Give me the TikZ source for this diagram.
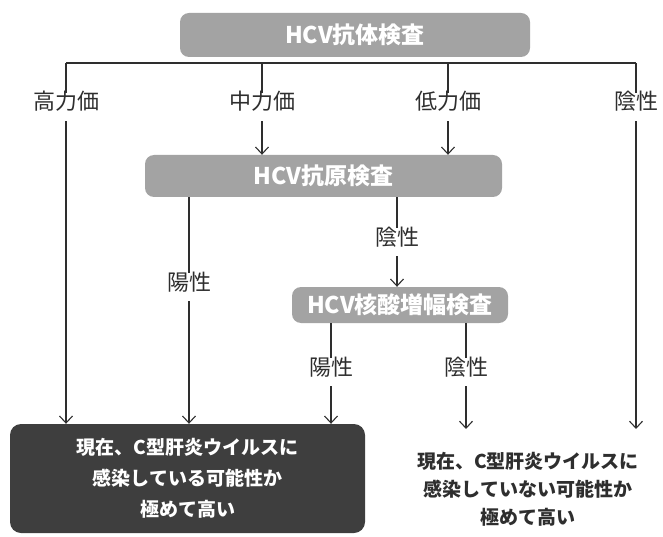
\documentclass[tikz,border=0pt]{standalone}
\usepackage{fontspec}
\setmainfont{Noto Sans CJK JP}
\usetikzlibrary{arrows.meta}
\definecolor{boxgray}{HTML}{A3A3A3}
\definecolor{darkbox}{HTML}{3E3E3E}
\definecolor{ink}{HTML}{2E2E2E}
\tikzset{
  testbox/.style={rectangle, rounded corners=9pt, fill=boxgray, draw=none, text=white,
    font=\fontsize{23}{26}\selectfont\bfseries, inner sep=0pt},
  lbl/.style={font=\fontsize{22}{26}\selectfont, text=ink, inner xsep=2pt, inner ysep=9pt,
    text height=0.8em, text depth=0.2em},
  conn/.style={draw=ink, line width=1.1pt},
  arr/.style={conn, -{Straight Barb[length=7pt,width=13pt,line width=1.1pt]}},
  resultbox/.style={rectangle, rounded corners=11pt, fill=darkbox, text=white, align=center,
    font=\fontsize{19}{31}\selectfont\bfseries, inner sep=0pt},
  resulttext/.style={align=center, text=ink, font=\fontsize{19}{28}\selectfont\bfseries, inner sep=0pt}
}
\begin{document}
\begin{tikzpicture}[x=1pt,y=-1pt]
\useasboundingbox (0,0) rectangle (663,537);
% boxes
\node[testbox, minimum width=350pt, minimum height=44pt] (ab) at (355,35) {HCV抗体検査};
\node[testbox, minimum width=357pt, minimum height=42pt] (ag) at (323.5,176) {HCV抗原検査};
\node[testbox, minimum width=216pt, minimum height=36pt] (nat) at (400,305) {HCV核酸増幅検査};
\node[resultbox, minimum width=355pt, minimum height=109pt] (res) at (187.5,478.5)
  {現在、C型肝炎ウイルスに\\感染している可能性か\\極めて高い};
\node[resulttext] (neg) at (528,489)
  {現在、C型肝炎ウイルスに\\感染していない可能性か\\極めて高い};
\coordinate (negtop) at (528,429);
% bus line
\coordinate (b1) at (66,63);
\coordinate (b2) at (262,63);
\coordinate (b3) at (448,63);
\coordinate (b4) at (636,63);
\draw[conn] (b1) -- (b4);
% labels
\node[lbl] (l1) at (66,107) {高力価};
\node[lbl] (l2) at (262,107) {中力価};
\node[lbl] (l3) at (448,107) {低力価};
\node[lbl] (l4) at (636,107) {陰性};
\node[lbl] (p1) at (189,287) {陽性};
\node[lbl] (n1) at (397,242) {陰性};
\node[lbl] (p2) at (331,372) {陽性};
\node[lbl] (n2) at (466,372) {陰性};
% connectors
\draw[conn] (b1) -- (l1);
\draw[conn] (b2) -- (l2);
\draw[conn] (b3) -- (l3);
\draw[conn] (b4) -- (l4);
\draw[arr] (l1) -- (l1 |- res.north);
\draw[arr] (l2) -- (l2 |- ag.north);
\draw[arr] (l3) -- (l3 |- ag.north);
\draw[arr] (l4) -- (l4 |- negtop);
\draw[conn] (p1 |- ag.south) -- (p1);
\draw[arr] (p1) -- (p1 |- res.north);
\draw[conn] (n1 |- ag.south) -- (n1);
\draw[arr] (n1) -- (n1 |- nat.north);
\draw[conn] (p2 |- nat.south) -- (p2);
\draw[arr] (p2) -- (p2 |- res.north);
\draw[conn] (n2 |- nat.south) -- (n2);
\draw[arr] (n2) -- (n2 |- negtop);
\end{tikzpicture}
\end{document}
